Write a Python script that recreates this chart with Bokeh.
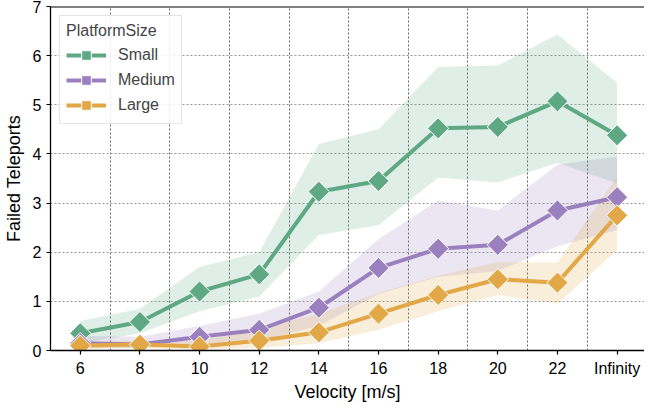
import numpy as np
from bokeh.plotting import figure
from bokeh.models import FixedTicker, Legend, LegendItem, Range1d, Span
from bokeh.embed import file_html
from bokeh.resources import INLINE

# ---- data ----
velocities = ["6", "8", "10", "12", "14", "16", "18", "20", "22", "Infinity"]
small_mean = [0.35, 0.58, 1.20, 1.55, 3.23, 3.45, 4.52, 4.55, 5.07, 4.38]
small_lo = [0.15, 0.35, 0.80, 1.10, 2.35, 2.55, 3.52, 3.42, 3.82, 3.40]
small_hi = [0.60, 0.85, 1.70, 2.00, 4.20, 4.50, 5.77, 5.80, 6.43, 5.45]
medium_mean = [0.15, 0.12, 0.28, 0.42, 0.87, 1.68, 2.07, 2.15, 2.85, 3.12]
medium_lo = [0.05, 0.05, 0.12, 0.20, 0.50, 1.15, 1.50, 1.62, 2.12, 2.45]
medium_hi = [0.30, 0.28, 0.50, 0.75, 1.20, 2.27, 3.05, 2.85, 3.78, 3.95]
large_mean = [0.10, 0.12, 0.08, 0.20, 0.37, 0.75, 1.13, 1.45, 1.38, 2.75]
large_lo = [0.02, 0.05, 0.02, 0.05, 0.15, 0.42, 0.80, 1.13, 0.95, 2.04]
large_hi = [0.20, 0.20, 0.20, 0.45, 0.75, 1.17, 1.52, 1.80, 1.79, 3.53]
y_ticks = [0, 1, 2, 3, 4, 5, 6, 7]

series = [
    ("Small", small_mean, small_lo, small_hi, "#5ea984"),
    ("Medium", medium_mean, medium_lo, medium_hi, "#9b80bf"),
    ("Large", large_mean, large_lo, large_hi, "#e2a848"),
]

xs = list(range(len(velocities)))
FONT = "Liberation Sans"

p = figure(width=644, height=404, output_backend="svg", toolbar_location=None,
           x_range=Range1d(-0.5, 9.46), y_range=Range1d(0, 7),
           min_border_left=42, min_border_right=0, min_border_top=6,
           min_border_bottom=39)
p.outline_line_color = None
p.background_fill_color = "white"
p.border_fill_color = "white"

# axes
p.xaxis.ticker = FixedTicker(ticks=xs)
p.xaxis.major_label_overrides = {i: v for i, v in enumerate(velocities)}
p.yaxis.ticker = FixedTicker(ticks=y_ticks)
for ax in (p.xaxis[0], p.yaxis[0]):
    ax.axis_line_color = "black"
    ax.axis_line_width = 1.3
    ax.major_tick_line_color = "black"
    ax.major_tick_line_width = 1.2
    ax.major_tick_out = 4
    ax.major_tick_in = 0
    ax.minor_tick_line_color = None
    ax.major_label_text_font = FONT
    ax.major_label_text_font_size = "16px"
    ax.major_label_text_color = "black"
    ax.axis_label_text_font = FONT
    ax.axis_label_text_font_size = "18px"
    ax.axis_label_text_font_style = "normal"
    ax.axis_label_text_color = "black"
p.xaxis.axis_label = "Velocity [m/s]"
p.yaxis.axis_label = "Failed Teleports"
p.xaxis.major_label_standoff = 5
p.xaxis.axis_label_standoff = 2
p.yaxis.major_label_standoff = 5
p.yaxis.axis_label_standoff = 6

# top spine
p.add_layout(Span(location=y_ticks[-1], dimension="width", line_color="black",
                  line_width=2))

# grids
p.xgrid.ticker = FixedTicker(ticks=[i + 0.5 for i in xs[:-1]])
p.xgrid.grid_line_color = "#666666"
p.xgrid.grid_line_dash = "2 2"
p.xgrid.grid_line_width = 1
p.ygrid.ticker = FixedTicker(ticks=y_ticks[1:-1])
p.ygrid.grid_line_color = "#999999"
p.ygrid.grid_line_dash = "2 2"
p.ygrid.grid_line_width = 1

# bands
for name, mean, lo, hi, col in series:
    p.varea(x=xs, y1=lo, y2=hi, fill_color=col, fill_alpha=0.2)

items = []
for name, mean, lo, hi, col in series:
    l = p.line(xs, mean, line_color=col, line_width=4)
    s = p.scatter(xs, mean, marker="square", angle=np.pi / 4, size=15,
                  fill_color=col, line_color="white", line_width=1)
    items.append(LegendItem(label=name, renderers=[l, s]))

legend = Legend(items=items, location="top_left", title="PlatformSize")
legend.title_text_font = FONT
legend.title_text_font_size = "16px"
legend.title_text_font_style = "normal"
legend.title_standoff = 3
legend.label_text_font = FONT
legend.label_text_font_size = "16px"
legend.glyph_width = 40
legend.glyph_height = 24
legend.spacing = 1
legend.padding = 6
legend.margin = 9
legend.label_standoff = 12
legend.border_line_color = "#cccccc"
legend.border_line_width = 1
legend.background_fill_alpha = 0.85
p.add_layout(legend)

open("out.html", "w").write(file_html(p, INLINE))
